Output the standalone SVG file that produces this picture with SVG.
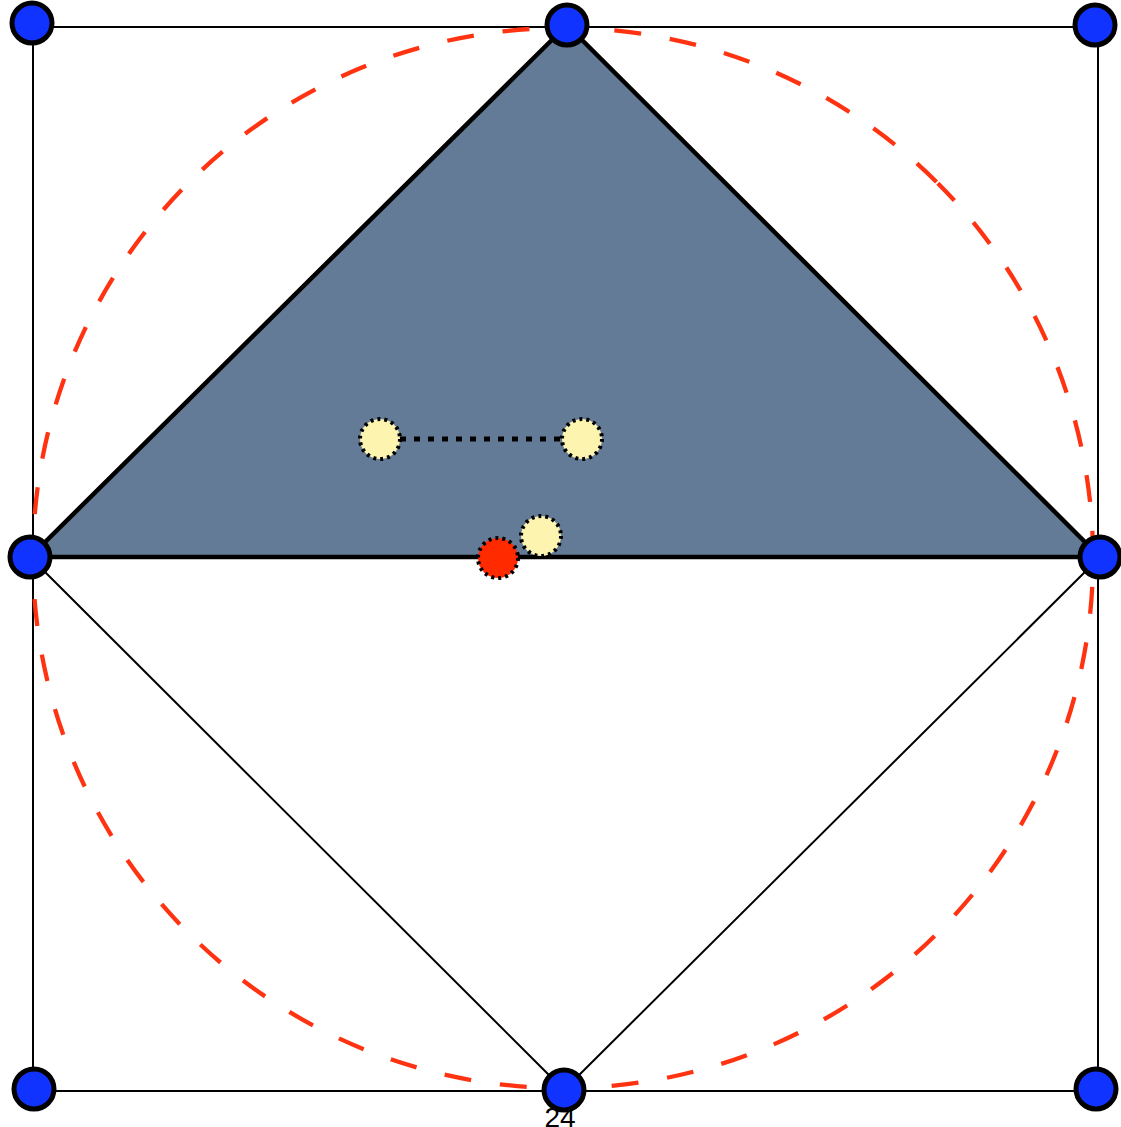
<svg xmlns="http://www.w3.org/2000/svg" width="1121" height="1127" viewBox="0 0 1121 1127">
<style>
.thin{stroke:#000;stroke-width:2;fill:none}
.blue{fill:#1133ff;stroke:#000;stroke-width:5}
.yel{fill:#fdf4b0;stroke:#000;stroke-width:4;stroke-dasharray:3 4}
.red{fill:#ff2a00;stroke:#000;stroke-width:4;stroke-dasharray:3 4}
</style>
<rect width="1121" height="1127" fill="#fff"/>
<g id="connectors">
<rect x="33" y="27" width="1065" height="1064" class="thin"/>
<path d="M30 557 L564 1090 L1100 557" class="thin"/>
<path id="triangle" d="M30 557 L567 25 L1100 557 Z" fill="#637b96" stroke="#000" stroke-width="4.5" stroke-linejoin="round"/>
<path d="M937.8 183.2 A530 530 0 0 1 188.2 932.8 A530 530 0 0 1 937.8 183.2" fill="none" stroke="#ff3311" stroke-width="4.3" stroke-dasharray="27 29" stroke-dashoffset="3"/>
<line x1="400" y1="439" x2="562" y2="439" stroke="#000" stroke-width="5" stroke-dasharray="6 8"/>
</g>
<g id="n1"><circle cx="32" cy="23" r="20" class="blue"/></g>
<g id="n2"><circle cx="567" cy="25" r="20" class="blue"/></g>
<g id="n3"><circle cx="1095" cy="25" r="20" class="blue"/></g>
<g id="n4"><circle cx="30" cy="557" r="20" class="blue"/></g>
<g id="n5"><circle cx="1100" cy="557" r="20" class="blue"/></g>
<g id="n6"><circle cx="34" cy="1089" r="20" class="blue"/></g>
<g id="n7"><circle cx="564" cy="1090" r="20" class="blue"/></g>
<g id="n8"><circle cx="1096" cy="1089" r="20" class="blue"/></g>
<g id="y1"><circle cx="380" cy="439" r="20" class="yel"/></g>
<g id="y2"><circle cx="582" cy="439" r="20" class="yel"/></g>
<g id="y3"><circle cx="541" cy="536" r="20" class="yel"/></g>
<g id="r1"><circle cx="498" cy="558" r="20" class="red"/></g>
<text x="560" y="1127" font-family="Liberation Sans, Arial, sans-serif" font-size="28" text-anchor="middle" fill="#000">24</text>
</svg>
